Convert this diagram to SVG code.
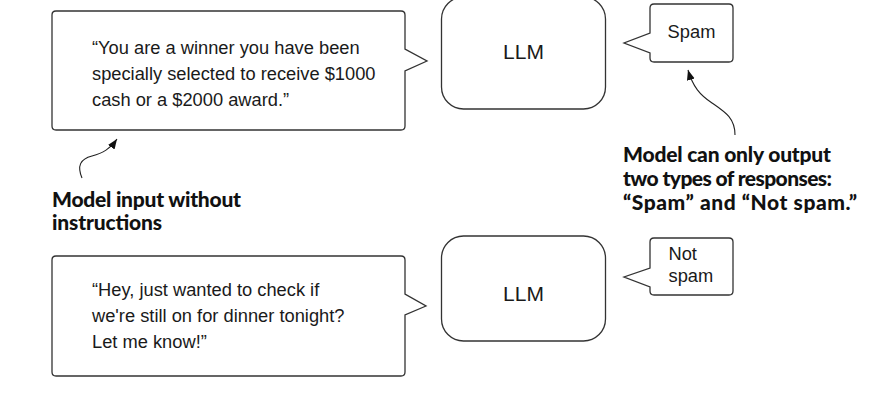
<svg xmlns="http://www.w3.org/2000/svg" width="878" height="401" viewBox="0 0 878 401">
<style>
.shape{fill:#ffffff;stroke:#333333;stroke-width:1.3;stroke-linejoin:miter}
.msg{font-family:"Liberation Sans",Arial,sans-serif;font-size:18.3px;fill:#1a1a1a}
.llm{font-family:"Liberation Sans",Arial,sans-serif;font-size:21px;fill:#1a1a1a;text-anchor:middle}
.note{font-family:Lato,"Open Sans",sans-serif;font-weight:900;font-size:21px;fill:#111111}
.conn{fill:none;stroke:#222222;stroke-width:1.1}
</style>
<defs>
<marker id="ah" markerUnits="userSpaceOnUse" markerWidth="11" markerHeight="9" refX="10" refY="4" orient="auto">
<path d="M0,0 L10,4 L0,8 Z" fill="#111111"/>
</marker>
</defs>
<rect width="878" height="401" fill="#ffffff"/>

<g id="input-spam">
<path class="shape" d="M56,11 H401 Q405,11 405,15 V49 L427,61 L405,71 V126 Q405,130 401,130 H56 Q52,130 52,126 V15 Q52,11 56,11 Z"/>
<text class="msg" x="92" y="53.5">“You are a winner you have been</text>
<text class="msg" x="92" y="79.5">specially selected to receive $1000</text>
<text class="msg" x="92" y="105.5">cash or a $2000 award.”</text>
</g>

<g id="llm-top">
<rect class="shape" x="441.5" y="-3" width="164" height="112" rx="22" ry="22"/>
<text class="llm" x="523.5" y="58.5">LLM</text>
</g>

<g id="out-spam">
<path class="shape" d="M654,4 H729 Q733,4 733,8 V58 Q733,62 729,62 H654 Q650,62 650,58 V53 L624,43 L650,33 V8 Q650,4 654,4 Z"/>
<text class="msg" x="691.5" y="37.5" text-anchor="middle">Spam</text>
</g>

<g id="input-ham">
<path class="shape" d="M56,256 H401 Q405,256 405,260 V294 L426,306 L405,315 V372 Q405,376 401,376 H56 Q52,376 52,372 V260 Q52,256 56,256 Z"/>
<text class="msg" x="92" y="295.5">“Hey, just wanted to check if</text>
<text class="msg" x="92" y="321.5">we're still on for dinner tonight?</text>
<text class="msg" x="92" y="347.5">Let me know!”</text>
</g>

<g id="llm-bottom">
<rect class="shape" x="441.5" y="236" width="164" height="105" rx="22" ry="22"/>
<text class="llm" x="523.5" y="301">LLM</text>
</g>

<g id="out-notspam">
<path class="shape" d="M654,238 H729 Q733,238 733,242 V291 Q733,295 729,295 H654 Q650,295 650,291 V287 L624,277 L650,268 V242 Q650,238 654,238 Z"/>
<text class="msg" x="668.5" y="260">Not</text>
<text class="msg" x="668.5" y="282">spam</text>
</g>

<g id="note-input">
<text class="note" x="52" y="206.5" textLength="189" lengthAdjust="spacing">Model input without</text>
<text class="note" x="52" y="230" textLength="110" lengthAdjust="spacing">instructions</text>
</g>

<g id="note-output">
<text class="note" x="623" y="162" textLength="208" lengthAdjust="spacing">Model can only output</text>
<text class="note" x="623" y="186" textLength="209" lengthAdjust="spacing">two types of responses:</text>
<text class="note" x="623" y="210" textLength="234" lengthAdjust="spacing">“Spam” and “Not spam.”</text>
</g>

<g id="connectors">
<path class="conn" marker-end="url(#ah)" d="M82,178 C77,166 80,159 92,156 C103,153 110,149 117,139"/>
<path class="conn" marker-end="url(#ah)" d="M735,135 C735,118 725,112 712,103 C700,95 693,87 688,70"/>
</g>
</svg>
